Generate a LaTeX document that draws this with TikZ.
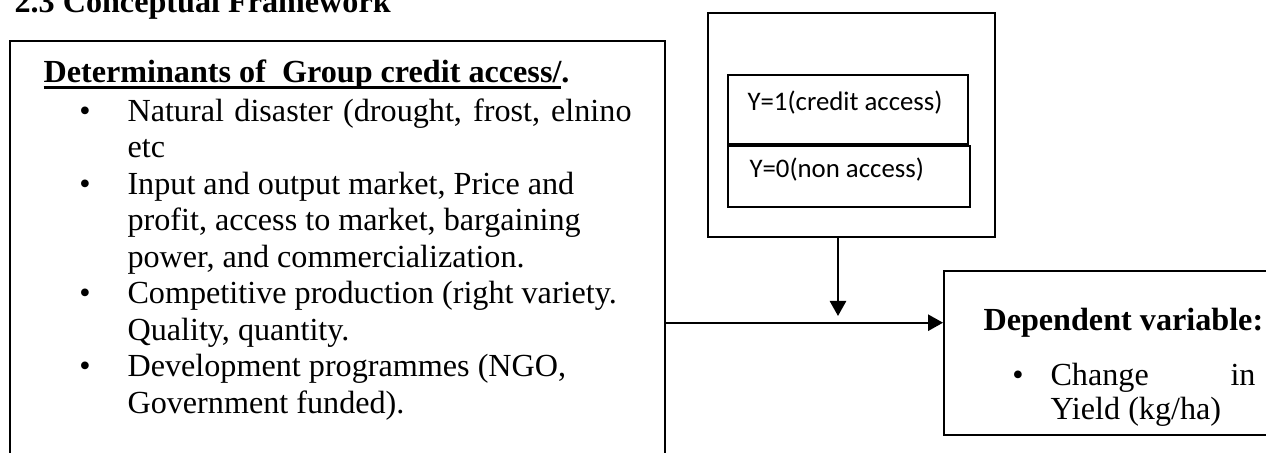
\documentclass[tikz,border=0pt]{standalone}
\usepackage{fontspec}
\setmainfont{Liberation Serif}
\newfontfamily\calibri{Carlito}
\usetikzlibrary{arrows.meta, positioning, fit}
\newsavebox\ulbox
\newcommand\thickul[1]{\sbox\ulbox{#1}\rlap{\rule[-2.6pt]{\wd\ulbox}{1.1pt}}\usebox\ulbox}

\begin{document}
\begin{tikzpicture}[x=0.373pt, y=-0.373pt,
            box/.style={draw=black, line width=0.7pt, inner sep=0pt},
            txt/.style={anchor=base west, inner sep=0pt, font=\fontsize{12}{13.8}\selectfont},
            bul/.style={anchor=base, inner sep=0pt, font=\fontsize{12}{13.8}\selectfont},
            lab/.style={anchor=base west, inner sep=0pt, font=\calibri\fontsize{10}{12}\selectfont},
            arr/.style={draw=black, line width=0.9pt, -{Triangle[length=5.6pt, width=6pt]}}]
            \clip (0,0) rectangle (1266,452);
            % heading, cut by the page top
            \node[txt, font=\bfseries\fontsize{12}{13.8}\selectfont] (title) at (14,12) {2.3 Conceptual Framework};
            % left box with determinants
            \node[box, fit={(10,41)(665,480)}] (det) {};
            \node[txt, font=\bfseries\fontsize{12}{13.8}\selectfont] (head) at (43,82)
                {\thickul{Determinants of\ \ Group credit access/}.};
            \node[bul] (b1) at (85,121) {\textbullet};
            \node[txt] (l1) at (127,121) {\makebox[188pt][s]{Natural disaster (drought, frost, elnino}};
            \node[txt] (l2) at (127,157.5) {etc};
            \node[bul] (b2) at (85,194) {\textbullet};
            \node[txt] (l3) at (127,194) {Input and output market, Price and};
            \node[txt] (l4) at (127,230.5) {profit, access to market, bargaining};
            \node[txt] (l5) at (127,267) {power, and commercialization.};
            \node[bul] (b3) at (85,303.5) {\textbullet};
            \node[txt] (l6) at (127,303.5) {Competitive production (right variety.};
            \node[txt] (l7) at (127,340) {Quality, quantity.};
            \node[bul] (b4) at (85,376.5) {\textbullet};
            \node[txt] (l8) at (127,376.5) {Development programmes (NGO,};
            \node[txt] (l9) at (127,413) {Government funded).};
            % credit access box
            \node[box, fit={(708,13)(995,237)}] (access) {};
            \node[box, fit={(728,75)(968,144)}] (yes) {};
            \node[box, fit={(728,146)(970,207)}] (no) {};
            \node[lab] (yestxt) at (747,110) {Y=1(credit access)};
            \node[lab] (notxt) at (749,177) {Y=0(non access)};
            % outcome box
            \node[box, fit={(944,271)(1290,435)}] (dep) {};
            \node[txt, font=\bfseries\fontsize{12}{13.8}\selectfont] (deptxt) at (983,330) {Dependent variable:};
            \node[bul] (b5) at (1018,385) {\textbullet};
            \node[txt, text width=205*0.373pt] (c1) at (1050,385) {Change\hfill in};
            \node[txt] (c2) at (1050,419) {Yield (kg/ha)};
            % connectors
            \coordinate (vtip) at (838,316);
            \coordinate (hstart) at (665,322.7);
            \draw[arr] (access.south -| vtip) -- (vtip);
            \draw[arr] (hstart) -- (hstart -| dep.west);
        \end{tikzpicture}
\end{document}
